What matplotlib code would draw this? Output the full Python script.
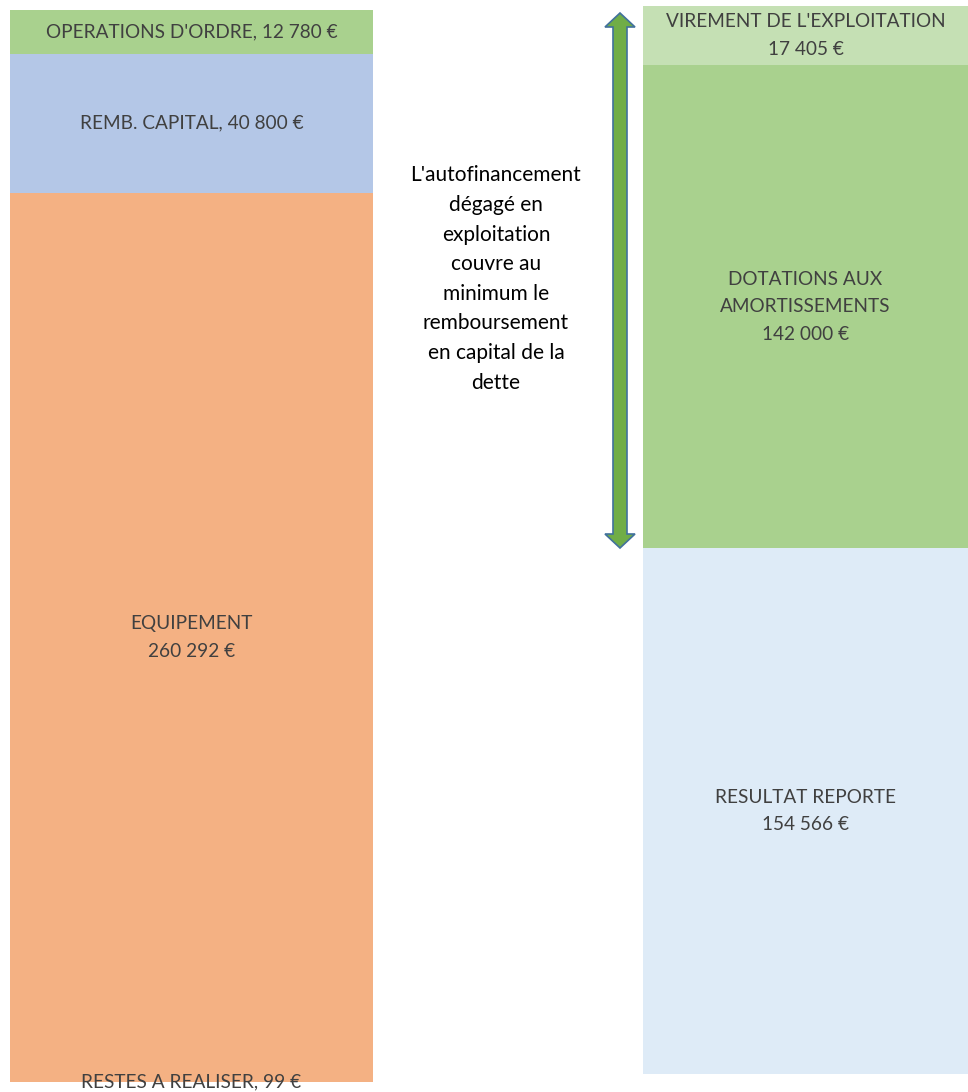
import matplotlib
matplotlib.use("Agg")
import matplotlib.pyplot as plt
from matplotlib.patches import Polygon

plt.rcParams['font.family'] = ['Lato', 'DejaVu Sans']

# Left bar (dépenses), bottom to top
left_labels = ["RESTES A REALISER, 99 €", "EQUIPEMENT\n260 292 €", "REMB. CAPITAL, 40 800 €", "OPERATIONS D'ORDRE, 12 780 €"]
left_values = [99, 260292, 40800, 12780]
left_colors = ["#F4B183", "#F4B183", "#B4C7E7", "#A9D18E"]

# Right bar (recettes), bottom to top
right_labels = ["RESULTAT REPORTE\n154 566 €", "DOTATIONS AUX\nAMORTISSEMENTS\n142 000 €", "VIREMENT DE L'EXPLOITATION\n17 405 €"]
right_values = [154566, 142000, 17405]
right_colors = ["#DEEBF7", "#A9D18E", "#C5E0B4"]

note = "L'autofinancement\ndégagé en\nexploitation\ncouvre au\nminimum le\nremboursement\nen capital de la\ndette"

W, H = 968, 1092
fig = plt.figure(figsize=(W / 100, H / 100), dpi=100)
txt_color = "#404040"
fs = 13.7

def stacked(ax, values, colors, labels):
    bottom = 0
    for v, c, lab in zip(values, colors, labels):
        ax.bar(0, v, bottom=bottom, width=1, color=c, edgecolor="none")
        ax.text(0, bottom + v / 2, lab, ha="center", va="center", fontsize=fs,
                color=txt_color, linespacing=1.75, clip_on=False)
        bottom += v
    ax.set_xlim(-0.5, 0.5)
    ax.set_ylim(0, bottom)
    ax.axis("off")

axL = fig.add_axes([10 / W, (H - 1082) / H, 363 / W, 1072 / H])
stacked(axL, left_values, left_colors, left_labels)

axR = fig.add_axes([643 / W, (H - 1074) / H, 325 / W, 1068 / H])
stacked(axR, right_values, right_colors, right_labels)

# Annotation text
fig.text(496 / W, 1 - 279 / H, note, ha="center", va="center", fontsize=15,
         color="black", linespacing=1.6)

# Double-headed arrow (figure pixel coords)
ax_ov = fig.add_axes([0, 0, 1, 1])
ax_ov.set_xlim(0, W)
ax_ov.set_ylim(H, 0)
ax_ov.axis("off")
ax_ov.patch.set_alpha(0)
x0 = 620
y_top, y_bot = 13, 548
sw, hw, hl = 7, 15, 14
pts = [(x0, y_top), (x0 + hw, y_top + hl), (x0 + sw, y_top + hl), (x0 + sw, y_bot - hl),
       (x0 + hw, y_bot - hl), (x0, y_bot), (x0 - hw, y_bot - hl), (x0 - sw, y_bot - hl),
       (x0 - sw, y_top + hl), (x0 - hw, y_top + hl)]
ax_ov.add_patch(Polygon(pts, closed=True, facecolor="#70AD47", edgecolor="#41719C", linewidth=1.2))

fig.savefig("out.png", dpi=100)
